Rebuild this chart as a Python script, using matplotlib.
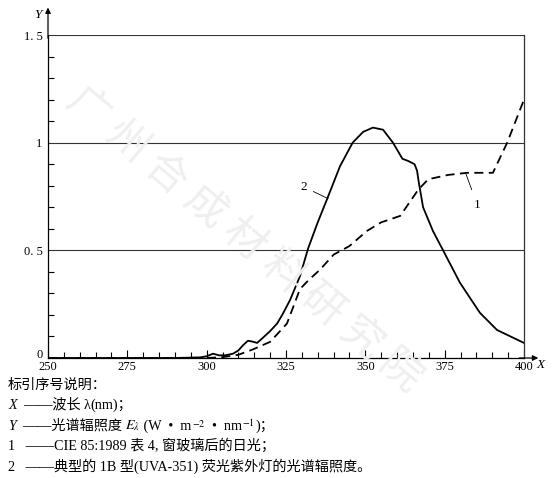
import matplotlib
matplotlib.use("Agg")
import matplotlib.pyplot as plt
from matplotlib.ticker import MultipleLocator
from matplotlib.offsetbox import TextArea, HPacker, AnchoredOffsetbox

plt.rcParams['mathtext.fontset'] = 'stix'
FAM = ['Liberation Serif', 'Noto Sans CJK SC']

# curve 1: CIE 85:1989, daylight behind window glass (dashed)
wl1 = [250, 300, 305, 310, 314.6, 320, 325.3, 329.4, 332, 335.7, 340, 345,
       350.5, 355, 361, 366.6, 369.8, 376, 382, 390.2, 394.7, 400]
irr1 = [0, 0, 0.004, 0.015, 0.04, 0.075, 0.16, 0.32, 0.36, 0.41, 0.48, 0.52,
        0.59, 0.63, 0.66, 0.78, 0.83, 0.85, 0.86, 0.86, 1.0, 1.2]

# curve 2: typical UVA-351 fluorescent lamp (solid)
wl2 = [250, 290, 298, 300, 302, 304, 306, 308.3, 310, 311.5, 313, 314.5, 315.9,
       317.8, 320, 322.2, 324, 326.3, 329.4, 332, 335, 338, 342, 346, 349.3,
       352.4, 355.6, 358.7, 361.7, 363.5, 365.5, 366.3, 366.8, 368.2, 371.3,
       374.5, 379.8, 386.1, 391.5, 400]
irr2 = [0, 0, 0.003, 0.008, 0.02, 0.012, 0.013, 0.02, 0.035, 0.06, 0.08, 0.076,
        0.07, 0.095, 0.125, 0.16, 0.205, 0.27, 0.38, 0.51, 0.63, 0.74, 0.89,
        1.0, 1.05, 1.07, 1.06, 1.0, 0.925, 0.915, 0.9, 0.87, 0.82, 0.70, 0.59,
        0.50, 0.35, 0.21, 0.13, 0.07]

xticks = [250, 275, 300, 325, 350, 375, 400]
yticks = [0, 0.5, 1, 1.5]
ylabels = ['0', '0. 5', '1', '1. 5']

# key lines, split into (text, style) pieces
legend_lines = [
    [('标引序号说明：', '')],
    [('X', 'it'), ('\u2002——波长 ', ''), ('λ', ''), ('(nm)；', '')],
    [('Y', 'it'), ('\u2002——光谱辐照度 ', ''), (r'$E_\lambda$', 'm'),
     (' (W  •  m', ''), (r'$^{-2}$', 'm'), ('  •  nm', ''), (r'$^{-1}$', 'm'), (')；', '')],
    [('1 \u2002——CIE 85:1989 表 4, 窗玻璃后的日光；', '')],
    [('2 \u2002——典型的 1B 型(UVA-351) 荧光紫外灯的光谱辐照度。', '')],
]

fig = plt.figure(figsize=(5.52, 4.78), dpi=100)
ax = fig.add_axes([48/552, 1 - 358/478, 476/552, 323/478])

# faint watermark
fig.text(0.13, 0.80, '广 州 合 成 材 料 研 究 院', rotation=-40, rotation_mode='anchor',
         fontsize=30, color='#efefef', family='Noto Sans CJK SC', ha='left', va='center',
         zorder=0)

for yv in [0.5, 1.0, 1.5]:
    ax.axhline(yv, color='#333333', lw=0.8, zorder=1)

ax.plot(wl1, irr1, color='black', lw=1.3, linestyle=(0, (5, 3)), zorder=3)
ax.plot(wl2, irr2, color='black', lw=1.3, zorder=3)

ax.set_xlim(250, 400)
ax.set_ylim(0, 1.5)
ax.spines['top'].set_visible(False)
ax.spines['right'].set_color('#333333')
ax.spines['right'].set_linewidth(0.9)
for s in ['left', 'bottom']:
    ax.spines[s].set_linewidth(0.9)

ax.set_xticks(xticks)
ax.set_xticklabels([str(v) for v in xticks], family=FAM, fontsize=9)
ax.set_yticks(yticks)
ax.set_yticklabels(ylabels, family=FAM, fontsize=9)
ax.get_yticklabels()[0].set_va('baseline')
ax.xaxis.set_minor_locator(MultipleLocator(5))
ax.yaxis.set_minor_locator(MultipleLocator(0.1))
ax.tick_params(which='major', direction='in', length=6, width=0.8, pad=2)
ax.tick_params(which='minor', direction='in', length=4, width=0.8)
ax.tick_params(axis='y', which='major', length=0, pad=4)

# axis arrows
ax.annotate('', xy=(0, 1.085), xytext=(0, 0.99), xycoords='axes fraction',
            arrowprops=dict(arrowstyle='-|>', color='black', lw=0.9,
                            mutation_scale=8, shrinkA=0, shrinkB=0))
ax.annotate('', xy=(1.03, 0), xytext=(0.99, 0), xycoords='axes fraction',
            arrowprops=dict(arrowstyle='-|>', color='black', lw=0.9,
                            mutation_scale=8, shrinkA=0, shrinkB=0))
fig.text(38/552, 1 - 15/478, 'Y', style='italic', family=FAM, fontsize=9.5,
         ha='center', va='center')
fig.text(541/552, 1 - 365/478, 'X', style='italic', family=FAM, fontsize=9.5,
         ha='center', va='center')

# curve labels
ax.annotate('2', xy=(338.3, 0.74), xytext=(330.5, 0.795), family=FAM, fontsize=9.5,
            ha='center', va='center',
            arrowprops=dict(arrowstyle='-', color='black', lw=0.6, shrinkA=3, shrinkB=0))
ax.annotate('1', xy=(381.7, 0.855), xytext=(385.3, 0.71), family=FAM, fontsize=9.5,
            ha='center', va='center',
            arrowprops=dict(arrowstyle='-', color='black', lw=0.6, shrinkA=5, shrinkB=0))

ys = [385, 405, 426, 446, 466]
for parts, yp in zip(legend_lines, ys):
    boxes = []
    for txt, kind in parts:
        props = dict(family=FAM, fontsize=10.2)
        if kind == 'it':
            props['style'] = 'italic'
        boxes.append(TextArea(txt, textprops=props))
    row = HPacker(children=boxes, align='baseline', pad=0, sep=0)
    ab = AnchoredOffsetbox(loc='center left', child=row, pad=0, borderpad=0,
                           frameon=False, bbox_to_anchor=(8/552, 1 - yp/478),
                           bbox_transform=fig.transFigure)
    fig.add_artist(ab)

fig.savefig('out.png', dpi=100)
